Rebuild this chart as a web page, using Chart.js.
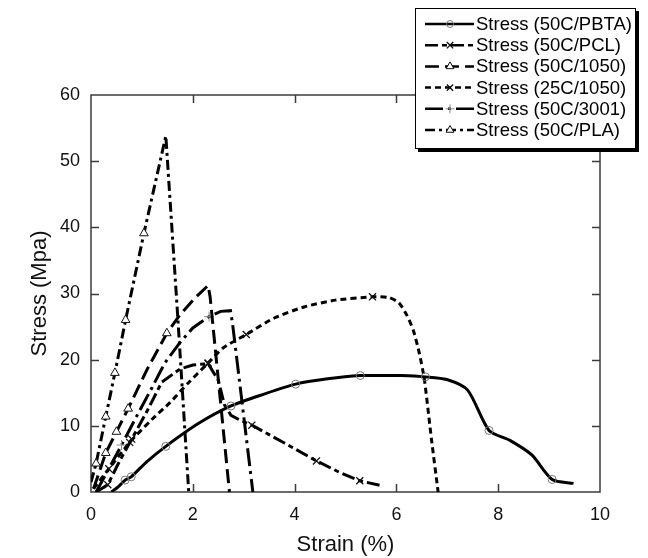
<!DOCTYPE html>
<html>
<head>
<meta charset="utf-8">
<title>Stress vs strain</title>
<script src="https://cdn.jsdelivr.net/npm/chart.js@4.4.0/dist/chart.umd.min.js"></script>
<style>
    html, body { margin: 0; padding: 0; background: #fff; }
    #wrap { width: 648px; height: 558px; }
</style>
</head>
<body>
<div id="wrap"><canvas id="stress-chart" width="648" height="558"></canvas></div>
<script>
// Values (strain in %, stress in MPa).
const pbta_strain = [0.40, 0.55, 0.67, 0.79, 1.10, 1.47, 2.10, 2.75, 3.40, 4.02, 4.65, 5.29, 5.70, 6.10, 6.57, 6.99, 7.40, 7.82, 8.23, 8.66, 9.06, 9.48];
const pbta_stress = [0.0, 0.9, 1.8, 2.3, 4.6, 6.9, 10.3, 13.0, 14.8, 16.3, 17.1, 17.6, 17.6, 17.6, 17.4, 17.0, 15.4, 9.3, 7.8, 5.6, 1.9, 1.3];
const pbta_marks = [2, 3, 5, 7, 9, 11, 14, 17, 20];

const pcl_strain = [0.10, 0.33, 0.55, 0.80, 1.10, 1.39, 1.75, 2.00, 2.30, 2.50, 2.62, 2.75, 2.92, 3.16, 3.80, 4.43, 4.90, 5.28, 5.68];
const pcl_stress = [0.0, 1.1, 4.5, 8.0, 12.2, 16.6, 18.6, 19.2, 19.4, 16.9, 13.2, 11.6, 10.9, 10.1, 7.4, 4.7, 2.9, 1.7, 1.0];
const pcl_marks = [1, 3, 8, 13, 15, 17];

const h1050_strain = [0.05, 0.29, 0.50, 0.73, 1.10, 1.49, 1.75, 2.04, 2.30, 2.34, 2.72];
const h1050_stress = [0.5, 5.9, 9.1, 12.6, 18.5, 24.0, 26.8, 29.3, 31.2, 29.5, 0.0];
const h1050_marks = [1, 2, 3, 5];

const c1050_strain = [0.05, 0.35, 0.76, 1.20, 1.55, 1.90, 2.30, 2.60, 3.05, 3.60, 4.20, 4.80, 5.53, 5.85, 6.05, 6.20, 6.33, 6.45, 6.55, 6.69, 6.82];
const c1050_stress = [0.5, 3.5, 7.5, 11.0, 13.5, 16.4, 19.5, 21.8, 23.8, 26.3, 28.0, 29.0, 29.5, 29.4, 28.6, 26.8, 24.5, 21.0, 17.0, 7.9, 0.0];
const c1050_marks = [1, 2, 6, 8, 12];

const h3001_strain = [0.10, 0.35, 0.60, 0.90, 1.20, 1.45, 1.75, 2.00, 2.32, 2.55, 2.74, 2.78, 3.18];
const h3001_stress = [0.0, 3.5, 7.1, 11.5, 15.8, 19.5, 22.6, 24.8, 26.5, 27.3, 27.4, 25.5, 0.0];
const h3001_marks = [2, 8];

const pla_strain = [0.00, 0.10, 0.29, 0.47, 0.68, 1.04, 1.47, 1.70, 1.92];
const pla_stress = [1.5, 4.3, 11.4, 18.0, 26.0, 39.1, 53.8, 27.0, 0.0];
const pla_marks = [1, 2, 3, 4, 5];

const series_labels = ["Stress (50C/PBTA)", "Stress (50C/PCL)", "Stress (50C/1050)", "Stress (25C/1050)", "Stress (50C/3001)", "Stress (50C/PLA)"];
const x_ticks = [0, 2, 4, 6, 8, 10];
const y_ticks = [0, 10, 20, 30, 40, 50, 60];

const FONT = "'Liberation Sans', Arial, Helvetica, sans-serif";

// Line and marker look per series, same order as series_labels.
const series_styles = [
    { dash: [], marker: "circle", radius: 4, marker_color: "#777", fill: "rgba(0,0,0,0)", marker_width: 1, tension: 0.25 },
    { dash: [13, 4, 5, 4], marker: "crossRot", radius: 5, marker_color: "#111", fill: "rgba(0,0,0,0)", marker_width: 1.3, tension: 0 },
    { dash: [14, 6], marker: "triangle", radius: 5, marker_color: "#111", fill: "#fff", marker_width: 1, tension: 0 },
    { dash: [6, 4], marker: "crossRot", radius: 5, marker_color: "#111", fill: "rgba(0,0,0,0)", marker_width: 1.3, tension: 0.2 },
    { dash: [18, 5, 3, 5], marker: "cross", radius: 5, marker_color: "#888", fill: "rgba(0,0,0,0)", marker_width: 1, tension: 0 },
    { dash: [10, 4, 3, 4], marker: "triangle", radius: 5, marker_color: "#111", fill: "#fff", marker_width: 1, tension: 0 }
];

/**
 * Zip two value arrays into chart points.
 * @param {Array<Number>} xs - strain values.
 * @param {Array<Number>} ys - stress values.
 * @returns {Array<Object>} points.
 */
function to_points(xs, ys) {
    return xs.map((x, i) => ({ x: x, y: ys[i] }));
}

/**
 * Build one dataset.
 * @param {Number} i - series index.
 * @param {Array<Object>} points - series points.
 * @param {Array<Number>} marks - indices that carry a marker.
 * @returns {Object} dataset.
 */
function make_dataset(i, points, marks) {
    let s = series_styles[i];
    return {
        label: series_labels[i],
        data: points,
        borderColor: "#000",
        borderWidth: 3,
        borderDash: s.dash,
        borderCapStyle: "butt",
        tension: s.tension,
        pointStyle: s.marker,
        pointRadius: (ctx) => marks.includes(ctx.dataIndex) ? s.radius : 0,
        pointBorderColor: s.marker_color,
        pointBackgroundColor: s.fill,
        pointBorderWidth: s.marker_width,
        pointHoverRadius: 0
    };
}

/**
 * Draw the framed box with inward ticks on all four sides.
 * @param {Chart} chart - chart instance.
 */
function draw_frame(chart) {
    let { ctx, chartArea: a, scales } = chart;
    ctx.save();
    ctx.strokeStyle = "#3c3c3c";
    ctx.lineWidth = 1.5;
    ctx.strokeRect(a.left, a.top, a.right - a.left, a.bottom - a.top);
    ctx.beginPath();
    x_ticks.slice(1, -1).forEach((v) => {
        let px = Math.round(scales.x.getPixelForValue(v)) + 0.5;
        ctx.moveTo(px, a.bottom);
        ctx.lineTo(px, a.bottom - 8);
        ctx.moveTo(px, a.top);
        ctx.lineTo(px, a.top + 8);
    });
    y_ticks.slice(1, -1).forEach((v) => {
        let py = Math.round(scales.y.getPixelForValue(v)) + 0.5;
        ctx.moveTo(a.left, py);
        ctx.lineTo(a.left + 8, py);
        ctx.moveTo(a.right, py);
        ctx.lineTo(a.right - 8, py);
    });
    ctx.stroke();
    ctx.restore();
}

/**
 * Draw the boxed legend with its drop shadow in the top right corner.
 * @param {Chart} chart - chart instance.
 */
function draw_legend(chart) {
    let ctx = chart.ctx;
    let box = { x: 415, y: 8, w: 221, h: 141 };
    ctx.save();
    ctx.fillStyle = "#000";
    ctx.fillRect(box.x + 3, box.y + 3, box.w, box.h);
    ctx.fillStyle = "#fff";
    ctx.fillRect(box.x, box.y, box.w, box.h);
    ctx.strokeStyle = "#000";
    ctx.lineWidth = 1;
    ctx.strokeRect(box.x + 0.5, box.y + 0.5, box.w - 1, box.h - 1);

    ctx.font = "18.5px " + FONT;
    ctx.textBaseline = "middle";
    series_labels.forEach((label, i) => {
        let s = series_styles[i];
        let y = 24 + i * 21.2;
        ctx.strokeStyle = "#000";
        ctx.lineWidth = 2.5;
        ctx.setLineDash(s.dash);
        ctx.beginPath();
        ctx.moveTo(425, y);
        ctx.lineTo(474, y);
        ctx.stroke();
        ctx.setLineDash([]);
        ctx.strokeStyle = s.marker_color;
        ctx.fillStyle = s.fill;
        ctx.lineWidth = s.marker_width;
        Chart.helpers.drawPoint(ctx, { pointStyle: s.marker, radius: s.radius - 0.5, rotation: 0, borderWidth: s.marker_width }, 450, y);
        ctx.fillStyle = "#000";
        ctx.fillText(label, 476, y + 1);
    });
    ctx.restore();
}

const frame_plugin = {
    id: "frame",
    beforeDatasetsDraw(chart) {
        draw_frame(chart);
    },
    afterDraw(chart) {
        draw_legend(chart);
    }
};

let chart_el = document.querySelector("#stress-chart");

new Chart(chart_el, {
    type: "line",
    data: {
        datasets: [
            make_dataset(0, to_points(pbta_strain, pbta_stress), pbta_marks),
            make_dataset(1, to_points(pcl_strain, pcl_stress), pcl_marks),
            make_dataset(2, to_points(h1050_strain, h1050_stress), h1050_marks),
            make_dataset(3, to_points(c1050_strain, c1050_stress), c1050_marks),
            make_dataset(4, to_points(h3001_strain, h3001_stress), h3001_marks),
            make_dataset(5, to_points(pla_strain, pla_stress), pla_marks)
        ]
    },
    options: {
        responsive: false,
        animation: false,
        events: [],
        layout: { padding: { top: 95, right: 48, left: 0, bottom: 0 } },
        plugins: {
            legend: { display: false },
            tooltip: { enabled: false }
        },
        scales: {
            x: {
                type: "linear",
                min: 0,
                max: 10,
                afterFit: (scale) => { scale.height = 66; },
                ticks: { stepSize: 2, color: "#111", padding: 12, font: { family: FONT, size: 18 } },
                grid: { display: false, drawTicks: false },
                border: { display: false },
                title: { display: true, text: "Strain (%)", color: "#111", padding: { top: 4, bottom: 0 }, font: { family: FONT, size: 22 } }
            },
            y: {
                type: "linear",
                min: 0,
                max: 60,
                afterFit: (scale) => { scale.width = 91; },
                ticks: { stepSize: 10, color: "#111", padding: 11, font: { family: FONT, size: 18 } },
                grid: { display: false, drawTicks: false },
                border: { display: false },
                title: { display: true, text: "Stress (Mpa)", color: "#111", padding: { top: 27, bottom: 0 }, font: { family: FONT, size: 22 } }
            }
        }
    },
    plugins: [frame_plugin]
});
</script>
</body>
</html>
